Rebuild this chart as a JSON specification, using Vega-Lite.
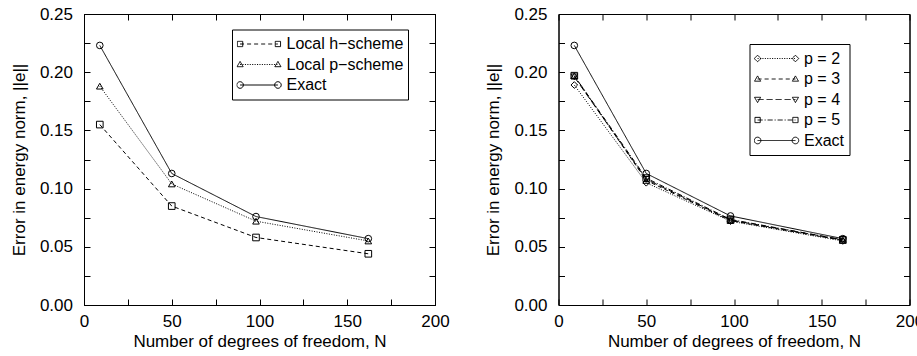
{
  "$schema": "https://vega.github.io/schema/vega-lite/v6.json",
  "padding": {"left": 9, "top": 4, "right": 0, "bottom": 0},
  "spacing": 33.5,
  "resolve": {
    "scale": {"shape": "independent", "strokeDash": "independent"},
    "legend": {"shape": "independent", "strokeDash": "independent"}
  },
  "config": {
    "font": "Liberation Sans",
    "view": {"stroke": "black", "strokeWidth": 1},
    "axis": {
      "grid": false,
      "tickSize": -6,
      "tickColor": "black",
      "tickWidth": 1,
      "domainColor": "black",
      "domainWidth": 1,
      "labelColor": "black",
      "labelFontSize": 17,
      "titleColor": "black",
      "titleFontSize": 17,
      "titleFontWeight": "normal"
    },
    "legend": {
      "labelFontSize": 16,
      "labelColor": "black",
      "strokeColor": "black",
      "padding": 4.5,
      "symbolSize": 1936,
      "clipHeight": 20,
      "rowPadding": 0.5,
      "labelOffset": 5,
      "symbolStrokeWidth": 1,
      "symbolStrokeColor": "black",
      "symbolDash": [1, 0]
    }
  },
  "datasets": {
    "left": [
      {"N": 9, "err": 0.155, "series": "Local h−scheme"},
      {"N": 50, "err": 0.085, "series": "Local h−scheme"},
      {"N": 98, "err": 0.058, "series": "Local h−scheme"},
      {"N": 162, "err": 0.044, "series": "Local h−scheme"},
      {"N": 9, "err": 0.188, "series": "Local p−scheme"},
      {"N": 50, "err": 0.104, "series": "Local p−scheme"},
      {"N": 98, "err": 0.072, "series": "Local p−scheme"},
      {"N": 162, "err": 0.055, "series": "Local p−scheme"},
      {"N": 9, "err": 0.223, "series": "Exact"},
      {"N": 50, "err": 0.113, "series": "Exact"},
      {"N": 98, "err": 0.076, "series": "Exact"},
      {"N": 162, "err": 0.057, "series": "Exact"}
    ],
    "right": [
      {"N": 9, "err": 0.189, "series": "p = 2"},
      {"N": 50, "err": 0.105, "series": "p = 2"},
      {"N": 98, "err": 0.072, "series": "p = 2"},
      {"N": 162, "err": 0.055, "series": "p = 2"},
      {"N": 9, "err": 0.197, "series": "p = 3"},
      {"N": 50, "err": 0.107, "series": "p = 3"},
      {"N": 98, "err": 0.0725, "series": "p = 3"},
      {"N": 162, "err": 0.0555, "series": "p = 3"},
      {"N": 9, "err": 0.196, "series": "p = 4"},
      {"N": 50, "err": 0.108, "series": "p = 4"},
      {"N": 98, "err": 0.073, "series": "p = 4"},
      {"N": 162, "err": 0.056, "series": "p = 4"},
      {"N": 9, "err": 0.197, "series": "p = 5"},
      {"N": 50, "err": 0.109, "series": "p = 5"},
      {"N": 98, "err": 0.0735, "series": "p = 5"},
      {"N": 162, "err": 0.056, "series": "p = 5"},
      {"N": 9, "err": 0.223, "series": "Exact"},
      {"N": 50, "err": 0.113, "series": "Exact"},
      {"N": 98, "err": 0.0765, "series": "Exact"},
      {"N": 162, "err": 0.057, "series": "Exact"}
    ]
  },
  "hconcat": [
    {
      "width": 351,
      "height": 291,
      "data": {"name": "left"},
      "resolve": {"scale": {"shape": "independent"}, "legend": {"shape": "independent"}, "axis": {"x": "independent", "y": "independent"}},
      "layer": [
        {
          "mark": {"type": "point", "filled": false, "color": "black", "strokeWidth": 1, "size": 0, "opacity": 1},
          "encoding": {
            "x": {"field": "N", "type": "quantitative",
              "scale": {"domain": [0, 200], "nice": false, "zero": false},
              "axis": {"orient": "bottom", "title": "Number of degrees of freedom, N",
                "values": [0, 25, 50, 75, 100, 125, 150, 175, 200],
                "labelExpr": "datum.value % 50 === 0 ? datum.label : ''",
                "labelFlush": false, "labelOverlap": false, "labelPadding": 14.5, "titlePadding": 4}},
            "y": {"field": "err", "type": "quantitative",
              "scale": {"domain": [0, 0.25], "nice": false, "zero": false},
              "axis": {"orient": "left", "title": "Error in energy norm, ||e||",
                "values": [0, 0.025, 0.05, 0.075, 0.1, 0.125, 0.15, 0.175, 0.2, 0.225, 0.25],
                "labelExpr": "round(datum.value * 1000) % 50 === 0 ? format(datum.value, '.2f') : ''",
                "labelFlush": false, "labelOverlap": false, "labelPadding": 17.5, "titlePadding": 11}},
            "shape": {"field": "series", "type": "nominal",
              "scale": {"domain": ["Local h−scheme", "Local p−scheme", "Exact"], "range": [
                "M-0.86,0h0.18M-0.54,0h0.18M-0.22,0h0.18M0.1,0h0.18M0.42,0h0.18M0.74,0h0.12M-0.98,-0.12h0.24v0.24h-0.24ZM0.74,-0.12h0.24v0.24h-0.24Z",
                "M-0.86,0h0.05M-0.75,0h0.05M-0.64,0h0.05M-0.53,0h0.05M-0.42,0h0.05M-0.31,0h0.05M-0.2,0h0.05M-0.09,0h0.05M0.02,0h0.05M0.13,0h0.05M0.24,0h0.05M0.35,0h0.05M0.46,0h0.05M0.57,0h0.05M0.68,0h0.05M0.79,0h0.05M-0.86,-0.14L-0.72,0.1L-1,0.1ZM0.86,-0.14L1,0.1L0.72,0.1Z",
                "M-0.86,0H0.86M-1.01,0a0.15,0.15 0 1,0 0.3,0a0.15,0.15 0 1,0 -0.3,0ZM0.71,0a0.15,0.15 0 1,0 0.3,0a0.15,0.15 0 1,0 -0.3,0Z"
              ]},
              "legend": {"title": null, "orient": "none", "legendX": 148, "legendY": 15.5}}
          }
        },
        {
          "mark": {"type": "point", "filled": false, "color": "black", "strokeWidth": 1, "size": 44, "opacity": 1},
          "encoding": {
            "x": {"field": "N", "type": "quantitative", "axis": null},
            "y": {"field": "err", "type": "quantitative", "axis": null},
            "shape": {"field": "series", "type": "nominal",
              "scale": {"domain": ["Local h−scheme", "Local p−scheme", "Exact"], "range": ["square", "triangle-up", "circle"]},
              "legend": null}
          }
        },
        {
          "mark": {"type": "line", "color": "black", "strokeWidth": 1},
          "encoding": {
            "x": {"field": "N", "type": "quantitative",
              "axis": {"orient": "top", "labels": false, "title": null,
                "values": [0, 25, 50, 75, 100, 125, 150, 175, 200]}},
            "y": {"field": "err", "type": "quantitative",
              "axis": {"orient": "right", "labels": false, "title": null,
                "values": [0, 0.025, 0.05, 0.075, 0.1, 0.125, 0.15, 0.175, 0.2, 0.225, 0.25]}},
            "strokeDash": {"field": "series", "type": "nominal",
              "scale": {"domain": ["Local h−scheme", "Local p−scheme", "Exact"], "range": [[4, 3], [1, 1.5], [1, 0]]},
              "legend": null}
          }
        }
      ]
    },
    {
      "width": 351,
      "height": 291,
      "data": {"name": "right"},
      "resolve": {"scale": {"shape": "independent"}, "legend": {"shape": "independent"}, "axis": {"x": "independent", "y": "independent"}},
      "layer": [
        {
          "mark": {"type": "point", "filled": false, "color": "black", "strokeWidth": 1, "size": 0, "opacity": 1},
          "encoding": {
            "x": {"field": "N", "type": "quantitative",
              "scale": {"domain": [0, 200], "nice": false, "zero": false},
              "axis": {"orient": "bottom", "title": "Number of degrees of freedom, N",
                "values": [0, 25, 50, 75, 100, 125, 150, 175, 200],
                "labelExpr": "datum.value % 50 === 0 ? datum.label : ''",
                "labelFlush": false, "labelOverlap": false, "labelPadding": 14.5, "titlePadding": 4}},
            "y": {"field": "err", "type": "quantitative",
              "scale": {"domain": [0, 0.25], "nice": false, "zero": false},
              "axis": {"orient": "left", "title": "Error in energy norm, ||e||",
                "values": [0, 0.025, 0.05, 0.075, 0.1, 0.125, 0.15, 0.175, 0.2, 0.225, 0.25],
                "labelExpr": "round(datum.value * 1000) % 50 === 0 ? format(datum.value, '.2f') : ''",
                "labelFlush": false, "labelOverlap": false, "labelPadding": 17.5, "titlePadding": 11}},
            "shape": {"field": "series", "type": "nominal",
              "scale": {"domain": ["p = 2", "p = 3", "p = 4", "p = 5", "Exact"], "range": [
                "M-0.86,0h0.05M-0.75,0h0.05M-0.64,0h0.05M-0.53,0h0.05M-0.42,0h0.05M-0.31,0h0.05M-0.2,0h0.05M-0.09,0h0.05M0.02,0h0.05M0.13,0h0.05M0.24,0h0.05M0.35,0h0.05M0.46,0h0.05M0.57,0h0.05M0.68,0h0.05M0.79,0h0.05M-0.86,-0.15L-0.71,0L-0.86,0.15L-1.01,0ZM0.86,-0.15L1.01,0L0.86,0.15L0.71,0Z",
                "M-0.86,0h0.18M-0.54,0h0.18M-0.22,0h0.18M0.1,0h0.18M0.42,0h0.18M0.74,0h0.12M-0.86,-0.14L-0.72,0.1L-1,0.1ZM0.86,-0.14L1,0.1L0.72,0.1Z",
                "M-0.86,0h0.27M-0.45,0h0.27M-0.04,0h0.27M0.37,0h0.27M0.78,0h0.08M-0.86,0.14L-0.72,-0.1L-1,-0.1ZM0.86,0.14L1,-0.1L0.72,-0.1Z",
                "M-0.86,0h0.23M-0.54,0h0.045M-0.405,0h0.23M-0.085,0h0.045M0.05,0h0.23M0.37,0h0.045M0.505,0h0.23M0.825,0h0.035M-0.98,-0.12h0.24v0.24h-0.24ZM0.74,-0.12h0.24v0.24h-0.24Z",
                "M-0.86,0H0.86M-1.01,0a0.15,0.15 0 1,0 0.3,0a0.15,0.15 0 1,0 -0.3,0ZM0.71,0a0.15,0.15 0 1,0 0.3,0a0.15,0.15 0 1,0 -0.3,0Z"
              ]},
              "legend": {"title": null, "orient": "none", "legendX": 191, "legendY": 30}}
          }
        },
        {
          "mark": {"type": "point", "filled": false, "color": "black", "strokeWidth": 1, "size": 44, "opacity": 1},
          "encoding": {
            "x": {"field": "N", "type": "quantitative", "axis": null},
            "y": {"field": "err", "type": "quantitative", "axis": null},
            "shape": {"field": "series", "type": "nominal",
              "scale": {"domain": ["p = 2", "p = 3", "p = 4", "p = 5", "Exact"], "range": ["diamond", "triangle-up", "triangle-down", "square", "circle"]},
              "legend": null}
          }
        },
        {
          "mark": {"type": "line", "color": "black", "strokeWidth": 1},
          "encoding": {
            "x": {"field": "N", "type": "quantitative",
              "axis": {"orient": "top", "labels": false, "title": null,
                "values": [0, 25, 50, 75, 100, 125, 150, 175, 200]}},
            "y": {"field": "err", "type": "quantitative",
              "axis": {"orient": "right", "labels": false, "title": null,
                "values": [0, 0.025, 0.05, 0.075, 0.1, 0.125, 0.15, 0.175, 0.2, 0.225, 0.25]}},
            "strokeDash": {"field": "series", "type": "nominal",
              "scale": {"domain": ["p = 2", "p = 3", "p = 4", "p = 5", "Exact"], "range": [[1, 1.5], [4, 3], [7, 3], [5, 2, 1, 2], [1, 0]]},
              "legend": null}
          }
        }
      ]
    }
  ]
}
